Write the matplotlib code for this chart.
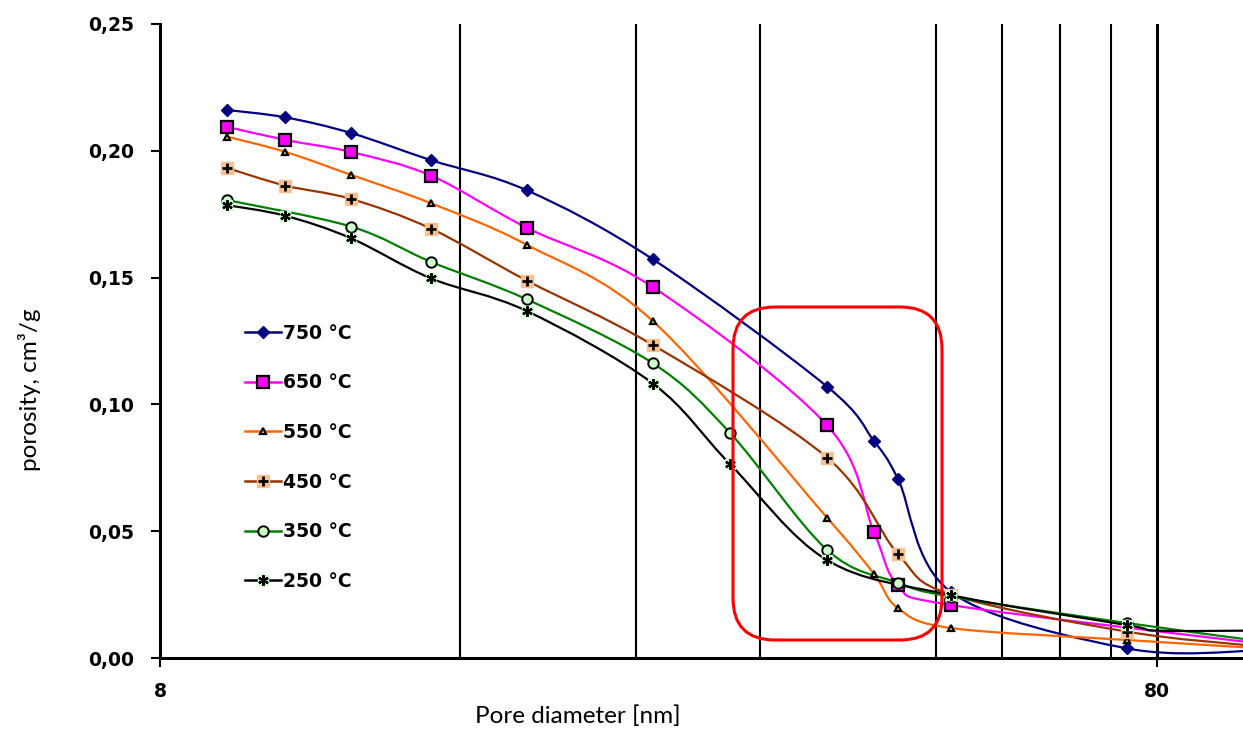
import numpy as np
import matplotlib
matplotlib.use("Agg")
import matplotlib.pyplot as plt
from matplotlib.path import Path
from matplotlib.patches import PathPatch, FancyBboxPatch
from matplotlib.lines import Line2D
from matplotlib.legend_handler import HandlerTuple

plt.rcParams['font.family'] = ['Lato', 'DejaVu Sans']

# pore diameter (nm) and porosity (cm3/g) per calcination temperature
x750 = [9.33, 10.68, 12.44, 14.96, 18.67, 24.98, 37.35, 41.62, 43.99, 49.72, 74.64, 100]
y750 = [0.2161, 0.2132, 0.2070, 0.1963, 0.1844, 0.1572, 0.1070, 0.0855, 0.0706, 0.0260, 0.0038, 0.0028]

x650 = [9.33, 10.68, 12.44, 14.96, 18.67, 24.98, 37.35, 41.62, 43.99, 49.72, 100]
y650 = [0.2095, 0.2043, 0.1995, 0.1902, 0.1696, 0.1462, 0.0917, 0.0496, 0.0288, 0.0209, 0.0060]

x550 = [9.33, 10.68, 12.44, 14.96, 18.67, 24.98, 37.35, 41.62, 43.99, 49.72, 74.64, 100]
y550 = [0.2056, 0.1996, 0.1905, 0.1793, 0.1629, 0.1328, 0.0553, 0.0331, 0.0196, 0.0118, 0.0071, 0.0040]

x450 = [9.33, 10.68, 12.44, 14.96, 18.67, 24.98, 37.35, 43.99, 49.72, 74.64, 100]
y450 = [0.1933, 0.1863, 0.1810, 0.1693, 0.1488, 0.1234, 0.0790, 0.0410, 0.0250, 0.0104, 0.0048]

x350 = [9.33, 12.44, 14.96, 18.67, 24.98, 29.84, 37.35, 43.99, 49.72, 74.64, 100]
y350 = [0.1806, 0.1701, 0.1562, 0.1414, 0.1162, 0.0888, 0.0426, 0.0297, 0.0242, 0.0138, 0.0070]

x250 = [9.33, 10.68, 12.44, 14.96, 18.67, 24.98, 29.84, 37.35, 49.72, 74.64, 80, 100]
y250 = [0.1786, 0.1744, 0.1655, 0.1497, 0.1368, 0.1082, 0.0765, 0.0386, 0.0248, 0.0130, 0.0108, 0.0108]

labels = ['750 °C', '650 °C', '550 °C', '450 °C', '350 °C', '250 °C']
grid_minor = [16, 24, 32, 48, 56, 64, 72]


def smooth_path(xs, ys):
    # Catmull-Rom style bezier through the points (log x), like Excel's smoothed line
    u = np.log10(xs)
    v = np.asarray(ys, float)
    n = len(u)
    verts = [(xs[0], ys[0])]
    codes = [Path.MOVETO]
    for i in range(n - 1):
        i0, i3 = max(i - 1, 0), min(i + 2, n - 1)
        c1 = (u[i] + (u[i + 1] - u[i0]) / 6, v[i] + (v[i + 1] - v[i0]) / 6)
        c2 = (u[i + 1] - (u[i3] - u[i]) / 6, v[i + 1] - (v[i3] - v[i]) / 6)
        verts += [(10 ** c1[0], c1[1]), (10 ** c2[0], c2[1]), (xs[i + 1], ys[i + 1])]
        codes += [Path.CURVE4] * 3
    return Path(verts, codes)


fig = plt.figure(figsize=(12.43, 7.38), dpi=100)
ax = fig.add_axes([0.1287, 0.1084, 0.8713, 0.8591])
ax.set_xscale('log')
ax.set_xlim(8, 97.6)
ax.set_ylim(0, 0.25)

for g in grid_minor:
    ax.axvline(g, color='black', lw=1.5, zorder=1)
ax.axvline(80, color='black', lw=2.2, zorder=1)

series = [
    (x750, y750, '#000080'),
    (x650, y650, '#FF00FF'),
    (x550, y550, '#FF6600'),
    (x450, y450, '#993300'),
    (x350, y350, '#008000'),
    (x250, y250, '#000000'),
]
for xs, ys, c in series:
    ax.add_patch(PathPatch(smooth_path(xs, ys), facecolor='none', edgecolor=c, lw=1.6, zorder=3))

mk750 = dict(ls='none', marker='D', ms=6, mfc='#000080', mec='#000080')
mk650 = dict(ls='none', marker='s', ms=8, mfc='#FF00FF', mec='black', mew=1.6)
mk550 = dict(ls='none', marker='^', ms=5, mfc='#FFFF00', mec='black', mew=1.6)
mk450a = dict(ls='none', marker='s', ms=8, mfc='#FAC090', mec='#FAC090')
mk450b = dict(ls='none', marker='+', ms=7.5, mec='black', mew=2)
mk350 = dict(ls='none', marker='o', ms=7.5, mfc='#CCFFCC', mec='black', mew=1.4)
mk250a = dict(ls='none', marker='s', ms=7.5, mfc='#CCFFCC', mec='#CCFFCC')
mk250b = dict(ls='none', marker=(6, 2, 0), ms=7.5, mec='black', mew=1.6)

ax.plot(x750[:-1], y750[:-1], zorder=4, **mk750)
ax.plot(x650[:-1], y650[:-1], zorder=4, **mk650)
ax.plot(x550[:-1], y550[:-1], zorder=4, **mk550)
ax.plot(x450[:-1], y450[:-1], zorder=4, **mk450a)
ax.plot(x450[:-1], y450[:-1], zorder=4, **mk450b)
ax.plot(x350[:-1], y350[:-1], zorder=4, **mk350)
ax.plot(x250[:-2], y250[:-2], zorder=4, **mk250a)
ax.plot(x250[:-2], y250[:-2], zorder=4, **mk250b)

# highlight box
box = FancyBboxPatch((7.33, 0.98), 2.09, 3.33, boxstyle='round,pad=0,rounding_size=0.42',
                     transform=fig.dpi_scale_trans, facecolor='none', edgecolor='#FF0000',
                     lw=2.2, zorder=6)
fig.patches.append(box)

handles = [
    Line2D([], [], color='#000080', lw=1.8, marker='D', ms=6, mfc='#000080', mec='#000080'),
    Line2D([], [], color='#FF00FF', lw=1.8, marker='s', ms=8, mfc='#FF00FF', mec='black', mew=1.6),
    Line2D([], [], color='#FF6600', lw=1.8, marker='^', ms=5, mfc='#FFFF00', mec='black', mew=1.6),
    (Line2D([], [], color='#993300', lw=1.8, marker='s', ms=8, mfc='#FAC090', mec='#FAC090'),
     Line2D([], [], **mk450b)),
    Line2D([], [], color='#008000', lw=1.8, marker='o', ms=7.5, mfc='#CCFFCC', mec='black', mew=1.4),
    (Line2D([], [], color='#000000', lw=1.8, marker='s', ms=7.5, mfc='#CCFFCC', mec='#CCFFCC'),
     Line2D([], [], **mk250b)),
]
bold = dict(family='DejaVu Sans', weight='bold', size=13.5)
ax.legend(handles, labels, loc='upper left', bbox_to_anchor=(0.0785, 0.527), frameon=False,
          prop=bold, numpoints=1, handlelength=1.9, handletextpad=0.15,
          labelspacing=1.63, borderpad=0, borderaxespad=0,
          handler_map={tuple: HandlerTuple(ndivide=1)})

ax.set_yticks([0, 0.05, 0.10, 0.15, 0.20, 0.25])
ax.set_yticklabels(['0,00', '0,05', '0,10', '0,15', '0,20', '0,25'], fontdict=bold)
ax.set_xticks([8, 80])
ax.set_xticklabels(['8', '80'], fontdict=bold)
ax.minorticks_off()
ax.tick_params(axis='both', length=6.5, width=1.5, color='black')
ax.tick_params(axis='y', pad=12)
ax.tick_params(axis='x', pad=11)

ax.spines['top'].set_visible(False)
ax.spines['right'].set_visible(False)
ax.spines['left'].set_linewidth(2.2)
ax.spines['bottom'].set_linewidth(2.2)

ax.set_xlabel('Pore diameter [nm]', fontsize=17.5)
ax.set_ylabel('porosity, cm³/g', fontsize=17.5)
ax.xaxis.set_label_coords(0.386, -0.075)
ax.yaxis.set_label_coords(-0.11, 0.423)

fig.savefig('out.png', dpi=100)
